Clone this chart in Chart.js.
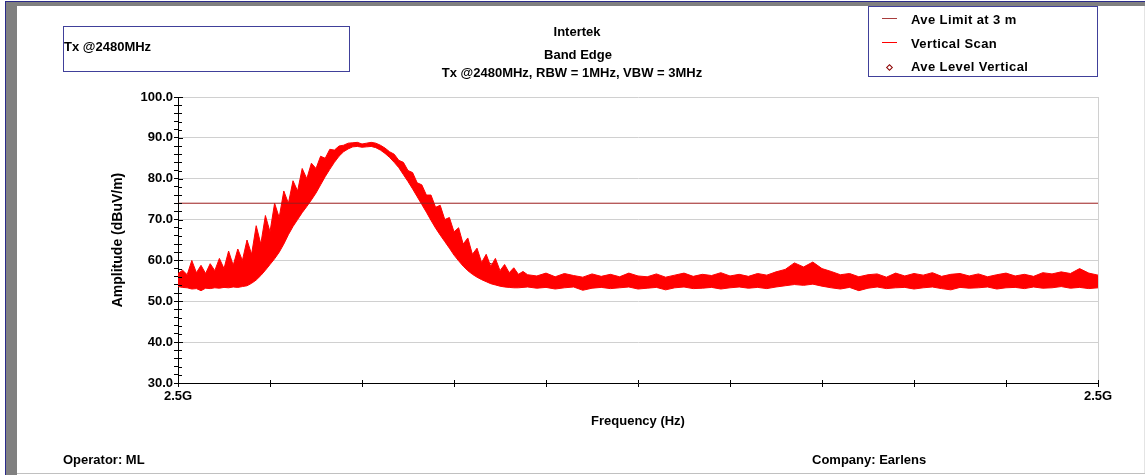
<!DOCTYPE html>
<html>
<head>
<meta charset="utf-8">
<script src="https://cdn.jsdelivr.net/npm/chart.js@4.4.1/dist/chart.umd.min.js"></script>
<style>
body { margin: 0; background: #fff; font-family: "Liberation Sans", Arial, sans-serif; font-weight: bold; color: #000; }
#pagina { position: relative; width: 1145px; height: 475px; overflow: hidden; }
#grafico { position: absolute; left: 0; top: 0; }
.txt { position: absolute; font-size: 13px; line-height: 16px; white-space: nowrap; }
.centro { text-align: center; width: 500px; }
.caja { position: absolute; border: 1px solid #40409a; box-sizing: border-box; }
.raya { position: absolute; }
</style>
</head>
<body>
<div id="pagina">
  <!-- marco de la ventana -->
  <div class="raya" style="left:5px;top:1px;width:1px;height:474px;background:#2a2a8a"></div>
  <div class="raya" style="left:6px;top:2px;width:11px;height:473px;background:#808080"></div>
  <div class="raya" style="left:5px;top:1px;width:1140px;height:1px;background:#2a2a8a"></div>
  <div class="raya" style="left:6px;top:2px;width:1139px;height:4px;background:#808080"></div>
  <div class="raya" style="left:17px;top:473px;width:1128px;height:1px;background:#c0c0c0"></div>
  <div class="raya" style="left:1144px;top:6px;width:1px;height:467px;background:#e4e4e4"></div>

  <canvas id="grafico" width="1145" height="475"></canvas>

  <div class="caja" style="left:63px;top:26px;width:287px;height:46px"></div>
  <div class="txt" style="left:64px;top:39px">Tx @2480MHz</div>

  <div class="txt centro" style="left:327px;top:24px">Intertek</div>
  <div class="txt centro" style="left:328px;top:47px">Band Edge</div>
  <div class="txt centro" style="left:322px;top:65px">Tx @2480MHz, RBW = 1MHz, VBW = 3MHz</div>

  <!-- leyenda -->
  <div class="caja" style="left:868px;top:6px;width:230px;height:71px"></div>
  <div class="raya" style="left:882px;top:18px;width:15px;height:1px;background:#a83c3c"></div>
  <div class="raya" style="left:882px;top:42px;width:15px;height:1px;background:#ff0000"></div>
  <div class="raya" style="left:887px;top:65px;width:3px;height:3px;border:1px solid #8b0000;transform:rotate(45deg)"></div>
  <div class="txt" style="left:911px;top:12px;letter-spacing:0.4px">Ave Limit at 3 m</div>
  <div class="txt" style="left:911px;top:36px;letter-spacing:0.4px">Vertical Scan</div>
  <div class="txt" style="left:911px;top:59px;letter-spacing:0.4px">Ave Level Vertical</div>

  <div class="txt" style="left:63px;top:452px">Operator: ML</div>
  <div class="txt" style="left:812px;top:452px">Company: Earlens</div>
</div>

<script>
// Frecuencias del barrido (MHz): paso fino en el lóbulo, más grueso después
const frecuencias = [
  2475.000, 2475.125, 2475.250, 2475.375, 2475.500, 2475.625, 2475.750, 2475.875,
  2476.000, 2476.125, 2476.250, 2476.375, 2476.500, 2476.625, 2476.750, 2476.875,
  2477.000, 2477.125, 2477.250, 2477.375, 2477.500, 2477.625, 2477.750, 2477.875,
  2478.000, 2478.125, 2478.250, 2478.375, 2478.500, 2478.625, 2478.750, 2478.875,
  2479.000, 2479.125, 2479.250, 2479.375, 2479.500, 2479.625, 2479.750, 2479.875,
  2480.000, 2480.125, 2480.250, 2480.375, 2480.500, 2480.625, 2480.750, 2480.875,
  2481.000, 2481.125, 2481.250, 2481.375, 2481.500, 2481.625, 2481.750, 2481.875,
  2482.000, 2482.125, 2482.250, 2482.375, 2482.500, 2482.625, 2482.750, 2482.875,
  2483.000, 2483.125, 2483.250, 2483.375, 2483.500, 2483.625, 2483.750, 2483.875,
  2484.000, 2484.125, 2484.250, 2484.375, 2484.500,
  2484.75, 2485.00, 2485.25, 2485.50, 2485.75, 2486.00, 2486.25, 2486.50,
  2486.75, 2487.00, 2487.25, 2487.50, 2487.75, 2488.00, 2488.25, 2488.50,
  2488.75, 2489.00, 2489.25, 2489.50, 2489.75, 2490.00, 2490.25, 2490.50,
  2490.75, 2491.00, 2491.25, 2491.50, 2491.75, 2492.00, 2492.25, 2492.50,
  2492.75, 2493.00, 2493.25, 2493.50, 2493.75, 2494.00, 2494.25, 2494.50,
  2494.75, 2495.00, 2495.25, 2495.50, 2495.75, 2496.00, 2496.25, 2496.50,
  2496.75, 2497.00, 2497.25, 2497.50, 2497.75, 2498.00, 2498.25, 2498.50,
  2498.75, 2499.00, 2499.25, 2499.50, 2499.75, 2500.00
];

// Envolvente superior del barrido vertical (dBuV/m)
const barridoMax = [
  56.8, 57.6, 56.5, 60.0, 57.0, 58.8, 56.8, 59.2,
  57.5, 60.5, 58.0, 62.3, 58.8, 62.8, 60.0, 65.0,
  61.5, 68.5, 64.0, 71.0, 67.0, 74.0, 70.5, 77.0,
  74.0, 79.5, 77.0, 82.5, 80.0, 83.8, 82.5, 85.5,
  85.0, 87.2, 87.0, 88.0, 88.2, 88.7, 88.8, 88.9,
  88.5, 88.7, 88.9, 88.7, 88.2, 87.5, 86.6, 86.0,
  84.5, 84.0, 82.0, 81.5, 79.0, 78.5, 76.0, 76.0,
  73.0, 73.5, 70.0, 70.5, 67.0, 68.0, 64.0, 65.5,
  61.5, 63.0, 59.5, 61.5, 58.5, 60.5, 57.5, 59.0,
  57.0, 58.2, 56.6, 57.3, 56.5,
  56.2, 56.9, 56.0, 56.8, 56.3, 55.9, 56.7, 56.1,
  56.6, 56.0, 56.9, 56.2, 56.0, 56.7, 55.9, 56.4,
  56.9, 56.1, 56.6, 56.3, 57.0, 56.2, 56.6, 56.1,
  56.8, 56.4, 57.2, 57.8, 59.4, 58.4, 59.6, 58.0,
  57.3, 56.5, 56.8, 56.0, 56.5, 56.7, 55.9, 56.9,
  56.2, 56.8, 56.4, 57.0, 56.1, 56.6, 56.8, 56.2,
  56.7, 56.0, 56.5, 56.9, 56.2, 56.6, 56.1, 57.0,
  56.7, 57.2, 56.8, 58.0, 56.9, 56.4
];

// Envolvente inferior del barrido vertical (dBuV/m)
const barridoMin = [
  53.6, 53.4, 53.3, 53.0, 53.1, 52.6, 53.2, 53.1,
  53.3, 53.2, 53.4, 53.3, 53.5, 53.4, 53.6, 53.8,
  54.4, 55.2, 56.3, 57.6, 59.0, 60.4, 62.0, 64.0,
  66.3, 68.3, 70.0, 71.7, 73.2, 74.8, 76.5, 78.5,
  80.5, 82.3, 84.0, 85.5, 86.6, 87.3, 87.8, 87.9,
  87.7, 87.8, 87.9, 87.6, 87.0, 86.2, 85.2, 84.0,
  82.7, 81.0, 79.3, 77.5, 75.6, 73.7, 71.8, 69.8,
  67.9, 66.2, 64.6, 63.0, 61.3, 59.9, 58.6, 57.5,
  56.6, 55.9, 55.3, 54.8, 54.3, 54.0, 53.7, 53.5,
  53.4, 53.3, 53.3, 53.4, 53.5,
  53.2, 53.4, 53.0, 53.3, 53.5, 52.7, 53.2, 53.4,
  53.1, 53.3, 53.5, 53.0, 53.2, 53.4, 52.8, 53.3,
  53.5, 53.1, 53.2, 53.4, 53.0, 53.3, 53.5, 53.2,
  53.4, 53.1, 53.5, 53.8, 54.1, 53.9, 54.2, 53.7,
  53.3, 53.0, 53.4, 52.6, 53.2, 53.5, 53.1, 53.3,
  53.4, 53.0, 53.3, 53.5, 53.1, 52.8, 53.4, 53.2,
  53.3, 53.5, 53.0, 53.3, 53.4, 53.1, 53.5, 53.2,
  53.3, 53.6, 53.2, 53.4, 53.1, 53.3
];

// Límite promedio a 3 m
const limiteFrec = [2475, 2500];
const limiteValor = [74, 74];

// Nivel promedio medido en el borde de banda
const nivelFrec = [2483.5];
const nivelValor = [58.6];

// Etiquetas de los ejes
const etiquetaX = 'Frequency (Hz)';
const etiquetaY = 'Amplitude (dBuV/m)';

if (frecuencias.length !== barridoMax.length || frecuencias.length !== barridoMin.length) {
    throw new Error('longitudes distintas: ' + frecuencias.length + ' ' + barridoMax.length + ' ' + barridoMin.length);
}

const fuente = { family: '"Liberation Sans", Arial, sans-serif', size: 13, weight: 'bold' };

function pares(xs, ys) {
    return xs.map((x, i) => ({ x: x, y: ys[i] }));
}

// Marcas cortas hacia dentro de los ejes, como en el original
const marcasInternas = {
    id: 'marcasInternas',
    afterDraw(chart) {
        const ctx = chart.ctx;
        const ejeX = chart.scales.x;
        const ejeY = chart.scales.y;
        const area = chart.chartArea;
        ctx.save();
        ctx.strokeStyle = '#000';
        ctx.lineWidth = 1;
        ctx.beginPath();
        ejeY.ticks.forEach(t => {
            const y = Math.round(ejeY.getPixelForValue(t.value)) + 0.5;
            ctx.moveTo(area.left, y);
            ctx.lineTo(area.left + (t.value % 10 === 0 ? 5 : 4), y);
        });
        ejeX.ticks.forEach(t => {
            const x = Math.round(ejeX.getPixelForValue(t.value)) + 0.5;
            ctx.moveTo(x, area.bottom);
            ctx.lineTo(x, area.bottom - 3);
        });
        ctx.stroke();
        ctx.restore();
    }
};

function generarGrafico() {
    const ctx = document.getElementById('grafico').getContext('2d');
    new Chart(ctx, {
        type: 'line',
        data: {
            datasets: [
                {
                    label: 'Ave Limit at 3 m',
                    data: pares(limiteFrec, limiteValor),
                    borderColor: '#9b1c1c',
                    borderWidth: 1,
                    pointRadius: 0,
                    fill: false
                },
                {
                    label: 'Vertical Scan',
                    data: pares(frecuencias, barridoMax),
                    borderColor: '#ff0000',
                    backgroundColor: '#ff0000',
                    borderWidth: 1,
                    pointRadius: 0,
                    fill: '+1'
                },
                {
                    label: 'Vertical Scan (min)',
                    data: pares(frecuencias, barridoMin),
                    borderColor: '#ff0000',
                    borderWidth: 1,
                    pointRadius: 0,
                    fill: false
                },
                {
                    label: 'Ave Level Vertical',
                    data: pares(nivelFrec, nivelValor),
                    showLine: false,
                    pointStyle: 'rectRot',
                    pointRadius: 3,
                    borderColor: '#8b0000',
                    backgroundColor: '#ffffff',
                    borderWidth: 1
                }
            ]
        },
        options: {
            responsive: false,
            animation: false,
            layout: { padding: { left: 108, right: 47, top: 97, bottom: 42 } },
            plugins: {
                legend: { display: false },
                tooltip: { enabled: false }
            },
            scales: {
                x: {
                    type: 'linear',
                    min: 2475,
                    max: 2500,
                    afterFit: eje => { eje.height = 50; },
                    border: { color: '#000', width: 1 },
                    grid: {
                        color: c => (c.tick && c.tick.value === 2500) ? '#d0d0d0' : 'rgba(0,0,0,0)',
                        tickColor: '#000',
                        tickLength: 4
                    },
                    ticks: {
                        stepSize: 2.5,
                        autoSkip: false,
                        maxRotation: 0,
                        padding: 2,
                        color: '#000',
                        font: fuente,
                        callback: v => (v === 2475 || v === 2500) ? (v / 1000).toFixed(1) + 'G' : ''
                    },
                    title: { display: true, text: etiquetaX, color: '#000', font: fuente, padding: { top: 4, bottom: 4 } }
                },
                y: {
                    min: 30,
                    max: 100,
                    afterFit: eje => { eje.width = 70; },
                    border: { color: '#000', width: 1 },
                    grid: {
                        color: c => (c.tick && c.tick.value % 10 === 0) ? '#d0d0d0' : 'rgba(0,0,0,0)',
                        tickColor: '#000',
                        tickLength: 4
                    },
                    ticks: {
                        stepSize: 2,
                        autoSkip: false,
                        padding: 1,
                        color: '#000',
                        font: fuente,
                        callback: v => (v % 10 === 0) ? v.toFixed(1) : ''
                    },
                    title: { display: true, text: etiquetaY, color: '#000', font: { family: fuente.family, size: 14, weight: 'bold' }, padding: { top: 2, bottom: 2 } }
                }
            }
        },
        plugins: [marcasInternas]
    });
}

document.addEventListener('DOMContentLoaded', () => {
    generarGrafico();
});
</script>
</body>
</html>
